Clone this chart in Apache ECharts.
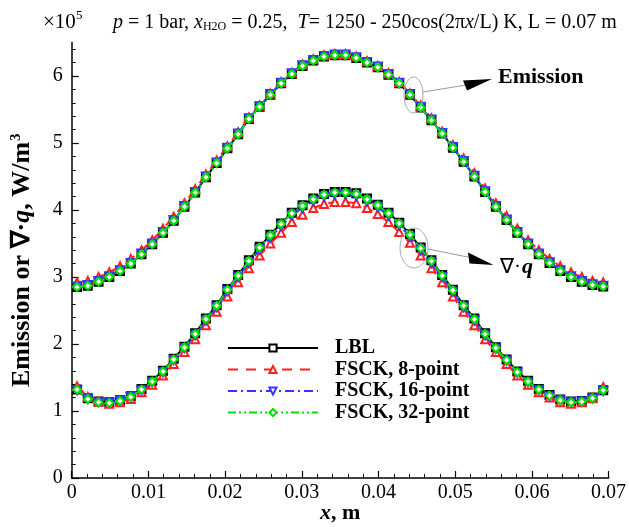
<!DOCTYPE html>
<html>
<head>
<meta charset="utf-8">
<script src="https://cdn.jsdelivr.net/npm/echarts@6/dist/echarts.min.js"></script>
<style>
html, body { margin: 0; background: #fff; }
#chart { width: 629px; height: 527px; }
</style>
</head>
<body>
<div id="chart"></div>
<script>
// grid points (m), cell centres
var xPos = [0.0007, 0.0021, 0.0035, 0.0049, 0.0063, 0.0077, 0.0091, 0.0105, 0.0119, 0.0133,
            0.0147, 0.0161, 0.0175, 0.0189, 0.0203, 0.0217, 0.0231, 0.0245, 0.0259, 0.0273,
            0.0287, 0.0301, 0.0315, 0.0329, 0.0343, 0.0357, 0.0371, 0.0385, 0.0399, 0.0413,
            0.0427, 0.0441, 0.0455, 0.0469, 0.0483, 0.0497, 0.0511, 0.0525, 0.0539, 0.0553,
            0.0567, 0.0581, 0.0595, 0.0609, 0.0623, 0.0637, 0.0651, 0.0665, 0.0679, 0.0693];
var xTicks = [0, 0.01, 0.02, 0.03, 0.04, 0.05, 0.06, 0.07];
var yTicks = [0, 1, 2, 3, 4, 5, 6];
var methods = ['LBL', 'FSCK, 8-point', 'FSCK, 16-point', 'FSCK, 32-point'];

// values in 1e5 W/m^3
var emisLBL = [2.85, 2.87, 2.93, 3.00, 3.09, 3.20, 3.34, 3.49, 3.66, 3.84, 4.05, 4.26, 4.49,
               4.70, 4.92, 5.13, 5.36, 5.54, 5.72, 5.89, 6.03, 6.15, 6.23, 6.29, 6.31,
               6.31, 6.27, 6.20, 6.13, 6.02, 5.89, 5.72, 5.53, 5.34, 5.14, 4.93, 4.72, 4.50,
               4.27, 4.05, 3.85, 3.66, 3.49, 3.34, 3.21, 3.09, 3.00, 2.93, 2.88, 2.86];
var divqLBL = [1.32, 1.19, 1.14, 1.13, 1.16, 1.22, 1.33, 1.45, 1.60, 1.78, 1.96, 2.16, 2.38,
               2.58, 2.82, 3.03, 3.25, 3.45, 3.63, 3.80, 3.96, 4.07, 4.17, 4.24, 4.27,
               4.27, 4.25, 4.17, 4.08, 3.96, 3.81, 3.64, 3.44, 3.25, 3.03, 2.81, 2.58, 2.38,
               2.16, 1.95, 1.77, 1.59, 1.45, 1.33, 1.24, 1.17, 1.14, 1.15, 1.20, 1.31];
var emis8 = [2.92, 2.94, 3.00, 3.07, 3.16, 3.27, 3.40, 3.55, 3.72, 3.90, 4.10, 4.31, 4.53,
             4.74, 4.95, 5.16, 5.38, 5.56, 5.74, 5.91, 6.05, 6.17, 6.25, 6.31, 6.33,
             6.33, 6.29, 6.22, 6.15, 6.04, 5.91, 5.74, 5.56, 5.37, 5.17, 4.97, 4.77, 4.55,
             4.32, 4.10, 3.91, 3.72, 3.55, 3.40, 3.27, 3.16, 3.07, 3.00, 2.94, 2.92];
var divq8 = [1.37, 1.21, 1.14, 1.11, 1.13, 1.18, 1.28, 1.39, 1.53, 1.70, 1.88, 2.07, 2.28,
             2.48, 2.71, 2.92, 3.13, 3.32, 3.50, 3.66, 3.82, 3.93, 4.03, 4.09, 4.12,
             4.12, 4.10, 4.03, 3.94, 3.82, 3.67, 3.51, 3.32, 3.13, 2.92, 2.71, 2.48, 2.28,
             2.07, 1.88, 1.70, 1.53, 1.39, 1.28, 1.20, 1.13, 1.11, 1.13, 1.19, 1.36];
var emis16 = [2.86, 2.88, 2.94, 3.01, 3.10, 3.21, 3.35, 3.50, 3.67, 3.85, 4.06, 4.27, 4.50,
              4.71, 4.93, 5.14, 5.37, 5.55, 5.73, 5.90, 6.04, 6.16, 6.24, 6.30, 6.32,
              6.32, 6.28, 6.21, 6.14, 6.03, 5.90, 5.73, 5.54, 5.35, 5.15, 4.94, 4.73, 4.51,
              4.28, 4.06, 3.86, 3.67, 3.50, 3.35, 3.22, 3.10, 3.01, 2.94, 2.89, 2.87];
var divq16 = [1.31, 1.18, 1.13, 1.12, 1.15, 1.21, 1.31, 1.43, 1.58, 1.76, 1.94, 2.13, 2.35,
              2.55, 2.79, 3.00, 3.21, 3.41, 3.59, 3.76, 3.92, 4.03, 4.13, 4.20, 4.23,
              4.23, 4.21, 4.13, 4.04, 3.92, 3.77, 3.60, 3.40, 3.21, 3.00, 2.78, 2.55, 2.35,
              2.13, 1.93, 1.75, 1.57, 1.43, 1.31, 1.22, 1.16, 1.13, 1.14, 1.19, 1.30];
var emis32 = [2.85, 2.87, 2.93, 3.00, 3.09, 3.20, 3.34, 3.49, 3.66, 3.84, 4.05, 4.26, 4.49,
              4.70, 4.92, 5.13, 5.36, 5.54, 5.72, 5.89, 6.03, 6.15, 6.23, 6.29, 6.31,
              6.31, 6.27, 6.20, 6.13, 6.02, 5.89, 5.72, 5.53, 5.34, 5.14, 4.93, 4.72, 4.50,
              4.27, 4.05, 3.85, 3.66, 3.49, 3.34, 3.21, 3.09, 3.00, 2.93, 2.88, 2.86];
var divq32 = [1.32, 1.18, 1.13, 1.12, 1.15, 1.21, 1.32, 1.44, 1.59, 1.77, 1.95, 2.15, 2.37,
              2.57, 2.81, 3.02, 3.24, 3.44, 3.62, 3.79, 3.95, 4.06, 4.16, 4.23, 4.26,
              4.26, 4.24, 4.16, 4.07, 3.95, 3.80, 3.63, 3.43, 3.24, 3.02, 2.80, 2.57, 2.37,
              2.15, 1.94, 1.76, 1.58, 1.44, 1.32, 1.23, 1.16, 1.13, 1.14, 1.19, 1.31];

var serif = '"Liberation Serif", "Times New Roman", serif';

function pairs(ys) {
    var out = [];
    for (var i = 0; i < xPos.length; i++) out.push([xPos[i], ys[i]]);
    return out;
}

function mk(name, ys, color, symbol, dash, rot, z) {
    return {
        name: name,
        type: 'line',
        data: pairs(ys),
        symbol: symbol,
        symbolSize: 8,
        symbolRotate: rot,
        z: z,
        lineStyle: { color: color, width: 2, type: dash },
        itemStyle: { color: color, borderColor: color, borderWidth: 1.2 },
        animation: false
    };
}

var styles = [
    ['#000000', 'emptyRect', 'solid', 0],
    ['#ff2020', 'emptyTriangle', [10, 8], 0],
    ['#3535ff', 'emptyTriangle', [9, 4, 2, 4], 180],
    ['#00e000', 'emptyDiamond', [8, 3, 2, 3, 2, 3], 0]
];
var allData = [[emisLBL, divqLBL], [emis8, divq8], [emis16, divq16], [emis32, divq32]];

var series = [];
methods.forEach(function (m, k) {
    var s = styles[k];
    series.push(mk(m, allData[k][0], s[0], s[1], s[2], s[3], 2 + k));
    series.push(mk(m, allData[k][1], s[0], s[1], s[2], s[3], 2 + k));
});

var chart = echarts.init(document.getElementById('chart'));

var option = {
    backgroundColor: '#fff',
    textStyle: { fontFamily: serif, color: '#000' },
    title: {
        left: 108,
        top: 7,
        text: '{i|p} = 1 bar, {i|x}{sub|H2O} = 0.25,  {i|T}= 1250 - 250cos(2π{i|x}/L) K, L = 0.07 m',
        textStyle: {
            fontFamily: serif, fontSize: 20, fontWeight: 'normal', color: '#000',
            rich: {
                i: { fontFamily: serif, fontSize: 20, fontStyle: 'italic', color: '#000' },
                sub: { fontFamily: serif, fontSize: 12, color: '#000', padding: [9, 0, 0, 0] }
            }
        }
    },
    legend: {
        left: 222,
        top: 333,
        orient: 'vertical',
        itemWidth: 90,
        itemHeight: 9,
        itemGap: 1.5,
        data: methods,
        textStyle: { fontFamily: serif, fontSize: 20, fontWeight: 'bold', color: '#000',
                     padding: [0, 0, 0, 12], lineHeight: 20 }
    },
    grid: { left: 71.7, right: 20.4, top: 42.5, bottom: 49, outerBoundsMode: 'none' },
    xAxis: {
        type: 'value',
        min: 0, max: 0.07, interval: 0.01,
        name: '{bi|x}{b|, m}',
        nameLocation: 'middle',
        nameGap: 24,
        nameMoveOverlap: false,
        nameTextStyle: {
            rich: {
                bi: { fontFamily: serif, fontSize: 22, fontWeight: 'bold', fontStyle: 'italic', color: '#000' },
                b: { fontFamily: serif, fontSize: 22, fontWeight: 'bold', color: '#000' }
            }
        },
        axisLine: { lineStyle: { color: '#000', width: 1.5 } },
        axisTick: { inside: true, length: 7, lineStyle: { color: '#000', width: 1.2 } },
        minorTick: { show: true, splitNumber: 5, length: 4, lineStyle: { color: '#000', width: 1 } },
        splitLine: { show: false },
        axisLabel: {
            fontFamily: serif, fontSize: 20, color: '#000', margin: 5,
            customValues: xTicks,
            formatter: function (v) { return v === 0 ? '0' : v.toFixed(2); }
        }
    },
    yAxis: {
        type: 'value',
        min: 0, max: 6.5, interval: 1,
        name: '{b|Emission or ∇·}{bi|q}{b|, W/m}{sup|3}',
        nameLocation: 'middle',
        nameRotate: 90,
        nameGap: 36,
        nameMoveOverlap: false,
        nameTextStyle: {
            rich: {
                b: { fontFamily: serif, fontSize: 26, fontWeight: 'bold', color: '#000' },
                bi: { fontFamily: serif, fontSize: 26, fontWeight: 'bold', fontStyle: 'italic', color: '#000' },
                sup: { fontFamily: serif, fontSize: 15, fontWeight: 'bold', color: '#000', padding: [0, 0, 12, 1] }
            }
        },
        axisLine: { show: true, lineStyle: { color: '#000', width: 1.5 } },
        axisTick: { show: true, inside: true, length: 7, customValues: yTicks,
                    lineStyle: { color: '#000', width: 1.2 } },
        minorTick: { show: true, splitNumber: 5, length: 4, lineStyle: { color: '#000', width: 1 } },
        splitLine: { show: false },
        axisLabel: {
            fontFamily: serif, fontSize: 20, color: '#000', margin: 9,
            customValues: yTicks
        }
    },
    graphic: [
        { type: 'text', left: 43, top: 12,
          style: { text: '×10', fontFamily: serif, fontSize: 21, fill: '#000' } },
        { type: 'text', left: 76, top: 9,
          style: { text: '5', fontFamily: serif, fontSize: 13, fill: '#000' } },

        { type: 'ellipse', shape: { cx: 413.5, cy: 95, rx: 9.5, ry: 18 },
          style: { fill: 'none', stroke: '#a8a8a8', lineWidth: 1 }, z: 10 },
        { type: 'line', shape: { x1: 423, y1: 92, x2: 466, y2: 85 },
          style: { stroke: '#9a9a9a', lineWidth: 1 }, z: 10 },
        { type: 'polygon', shape: { points: [[463, 80.5], [492, 79], [467, 90.5]] },
          style: { fill: '#000' }, z: 10 },
        { type: 'text', left: 498, top: 66,
          style: { text: 'Emission', fontFamily: serif, fontSize: 22, fontWeight: 'bold', fill: '#000' }, z: 10 },

        { type: 'ellipse', shape: { cx: 414, cy: 248, rx: 14, ry: 20 },
          style: { fill: 'none', stroke: '#a8a8a8', lineWidth: 1 }, z: 10 },
        { type: 'line', shape: { x1: 428, y1: 249, x2: 470, y2: 257.5 },
          style: { stroke: '#9a9a9a', lineWidth: 1 }, z: 10 },
        { type: 'polygon', shape: { points: [[468, 252.5], [493.5, 265], [469.5, 263.5]] },
          style: { fill: '#000' }, z: 10 },
        { type: 'text', left: 500, top: 257, z: 10,
          style: { text: '∇·', fontFamily: serif, fontSize: 21, fill: '#000' } },
        { type: 'text', left: 522, top: 256, z: 10,
          style: { text: 'q', fontFamily: serif, fontSize: 22, fontWeight: 'bold', fontStyle: 'italic', fill: '#000' } }
    ],
    series: series
};

chart.setOption(option);
</script>
</body>
</html>
